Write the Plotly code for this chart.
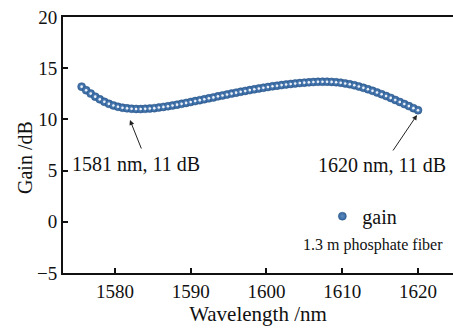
import plotly.graph_objects as go

wavelength = [1575.6, 1576.2, 1576.8, 1577.4, 1578.0, 1578.6, 1579.2, 1579.8, 1580.4, 1581.0,
              1581.6, 1582.2, 1582.8, 1583.4, 1584.0, 1584.6, 1585.2, 1585.8, 1586.4, 1587.0,
              1587.6, 1588.2, 1588.8, 1589.4, 1590.0, 1590.6, 1591.2, 1591.8, 1592.4, 1593.0,
              1593.6, 1594.2, 1594.8, 1595.4, 1596.0, 1596.6, 1597.2, 1597.8, 1598.4, 1599.0,
              1599.6, 1600.2, 1600.8, 1601.4, 1602.0, 1602.6, 1603.2, 1603.8, 1604.4, 1605.0,
              1605.6, 1606.2, 1606.8, 1607.4, 1608.0, 1608.6, 1609.2, 1609.8, 1610.4, 1611.0,
              1611.6, 1612.2, 1612.8, 1613.4, 1614.0, 1614.6, 1615.2, 1615.8, 1616.4, 1617.0,
              1617.6, 1618.2, 1618.8, 1619.4, 1620.0]
gain = [13.20, 12.85, 12.52, 12.22, 11.96, 11.72, 11.52, 11.36, 11.23, 11.14,
        11.08, 11.04, 11.02, 11.01, 11.03, 11.06, 11.10, 11.16, 11.22, 11.29,
        11.36, 11.44, 11.52, 11.61, 11.70, 11.79, 11.88, 11.97, 12.06, 12.15,
        12.25, 12.34, 12.43, 12.52, 12.61, 12.70, 12.78, 12.86, 12.94, 13.02,
        13.09, 13.16, 13.23, 13.29, 13.35, 13.41, 13.46, 13.51, 13.55, 13.59,
        13.62, 13.65, 13.67, 13.68, 13.68, 13.66, 13.63, 13.58, 13.51, 13.43,
        13.33, 13.21, 13.08, 12.94, 12.79, 12.63, 12.46, 12.28, 12.10, 11.90,
        11.70, 11.50, 11.30, 11.10, 10.90]

x_ticks = [1580, 1590, 1600, 1610, 1620]
y_ticks = [-5, 0, 5, 10, 15, 20]
y_tick_text = ["\u22125", "0", "5", "10", "15", "20"]

FONT = "Liberation Serif"
BLUE = "#33659f"

fig = go.Figure()
fig.add_trace(go.Scatter(
    x=wavelength, y=gain, mode="markers", name="gain",
    marker=dict(size=8, color=BLUE,
                gradient=dict(type="radial", color="#5f8bbf"),
                line=dict(width=0.5, color="#2a5688")),
))
fig.add_trace(go.Scatter(
    x=wavelength, y=gain, mode="markers", showlegend=False, hoverinfo="skip",
    marker=dict(size=2.6, color="rgba(245,248,252,0.95)", line=dict(width=0)),
))

annotations = [
    dict(x=1581.98, y=9.94, ax=1583.56, ay=7.01, axref="x", ayref="y",
         xref="x", yref="y", text="", showarrow=True, arrowhead=2,
         arrowsize=1, arrowwidth=1, arrowcolor="#222"),
    dict(x=1619.87, y=10.43, ax=1616.57, ay=6.82, axref="x", ayref="y",
         xref="x", yref="y", text="", showarrow=True, arrowhead=2,
         arrowsize=1, arrowwidth=1, arrowcolor="#222"),
    dict(x=1574.0, y=5.6, xref="x", yref="y", text="1581 nm, 11 dB",
         showarrow=False, xanchor="left", yanchor="middle",
         font=dict(family=FONT, size=20, color="#111")),
    dict(x=1623.9, y=5.5, xref="x", yref="y", text="1620 nm, 11 dB",
         showarrow=False, xanchor="right", yanchor="middle",
         font=dict(family=FONT, size=20, color="#111")),
    dict(x=1623.6, y=-2.3, xref="x", yref="y", text="1.3 m phosphate fiber",
         showarrow=False, xanchor="right", yanchor="middle",
         font=dict(family=FONT, size=16, color="#111")),
    dict(x=-0.097, y=0.45, xref="paper", yref="paper", text="Gain /dB",
         showarrow=False, textangle=-90, xanchor="center", yanchor="middle",
         font=dict(family=FONT, size=20, color="#111")),
]

fig.update_layout(
    width=453, height=328,
    margin=dict(l=63, r=0, t=17, b=55, autoexpand=False),
    paper_bgcolor="white", plot_bgcolor="white",
    font=dict(family=FONT, size=19, color="#111"),
    showlegend=True,
    legend=dict(x=0.665, y=0.222, xanchor="left", yanchor="middle",
                bgcolor="rgba(0,0,0,0)", font=dict(family=FONT, size=20)),
    annotations=annotations,
    xaxis=dict(range=[1573.14, 1624.62], tickvals=x_ticks,
               ticks="inside", ticklen=5, tickwidth=1.5, tickcolor="#111",
               tickfont=dict(family=FONT, size=19),
               showline=True, linewidth=2, linecolor="#111", mirror=True,
               showgrid=False, zeroline=False,
               title=dict(text="Wavelength /nm", font=dict(family=FONT, size=21), standoff=5)),
    yaxis=dict(range=[-5, 20], tickvals=y_ticks, ticktext=y_tick_text,
               ticks="inside", ticklen=5, tickwidth=1.5, tickcolor="#111",
               tickfont=dict(family=FONT, size=19),
               showline=True, linewidth=2, linecolor="#111", mirror=False,
               showgrid=False, zeroline=False),
)

fig.write_html("out.html", config={"displayModeBar": False},
               post_script="document.body.style.margin='0';document.body.style.overflow='hidden';")
